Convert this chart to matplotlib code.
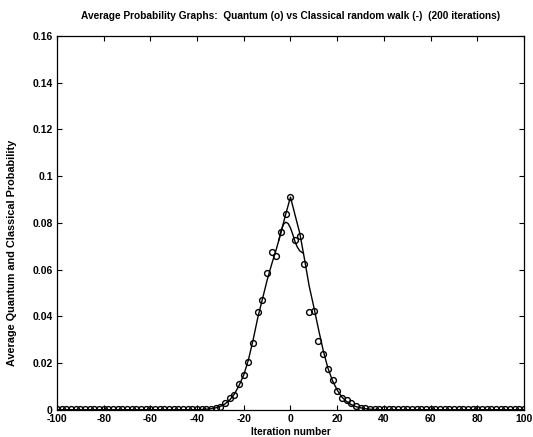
import numpy as np
import matplotlib
matplotlib.use("Agg")
import matplotlib.pyplot as plt

plt.rcParams['font.family'] = ['Liberation Sans', 'DejaVu Sans']
plt.rcParams['axes.unicode_minus'] = False

# positions on the line (every second site)
positions = np.arange(-100, 101, 2)

# averaged quantum walk probabilities (circles)
quantum = [0.0005, 0.0005, 0.0005, 0.0005, 0.0005, 0.0005, 0.0005, 0.0005, 0.0005, 0.0005,
           0.0005, 0.0005, 0.0005, 0.0005, 0.0005, 0.0005, 0.0005, 0.0005, 0.0005, 0.0005,
           0.0005, 0.0005, 0.0005, 0.0005, 0.0005, 0.0005, 0.0005, 0.0005, 0.0005, 0.0005,
           0.0005, 0.0005, 0.0005,
           0.0006, 0.0009, 0.0014, 0.0031, 0.0050, 0.0065, 0.0111, 0.0151, 0.0203, 0.0288,
           0.0417, 0.0470, 0.0584, 0.0677, 0.0659, 0.0761, 0.0839,
           0.0910,
           0.0727, 0.0745, 0.0624, 0.0419, 0.0423, 0.0294, 0.0241, 0.0175, 0.0126, 0.0083,
           0.0050, 0.0043, 0.0031, 0.0017, 0.0010, 0.0007, 0.0005,
           0.0005, 0.0005, 0.0005, 0.0005, 0.0005, 0.0005, 0.0005, 0.0005, 0.0005, 0.0005,
           0.0005, 0.0005, 0.0005, 0.0005, 0.0005, 0.0005, 0.0005, 0.0005, 0.0005, 0.0005,
           0.0005, 0.0005, 0.0005, 0.0005, 0.0005, 0.0005, 0.0005, 0.0005, 0.0005, 0.0005,
           0.0005, 0.0005, 0.0005]

# classical random walk (solid line)
classical = [0.0001, 0.0001, 0.0001, 0.0001, 0.0001, 0.0001, 0.0001, 0.0001, 0.0001, 0.0001,
             0.0001, 0.0001, 0.0001, 0.0001, 0.0001, 0.0001, 0.0001, 0.0001, 0.0001, 0.0001,
             0.0001, 0.0001, 0.0001, 0.0001, 0.0001, 0.0001, 0.0001, 0.0001, 0.0001, 0.0001,
             0.0001, 0.0002, 0.0003,
             0.0005, 0.0009, 0.0015, 0.0026, 0.0043, 0.0068, 0.0105, 0.0150, 0.0215, 0.0300,
             0.0395, 0.0475, 0.0555, 0.0625, 0.0690, 0.0761, 0.0839,
             0.0910,
             0.0832, 0.0755, 0.0645, 0.0530, 0.0440, 0.0345, 0.0255, 0.0180, 0.0125, 0.0085,
             0.0055, 0.0036, 0.0023, 0.0014, 0.0009, 0.0005, 0.0003,
             0.0002, 0.0001, 0.0001, 0.0001, 0.0001, 0.0001, 0.0001, 0.0001, 0.0001, 0.0001,
             0.0001, 0.0001, 0.0001, 0.0001, 0.0001, 0.0001, 0.0001, 0.0001, 0.0001, 0.0001,
             0.0001, 0.0001, 0.0001, 0.0001, 0.0001, 0.0001, 0.0001, 0.0001, 0.0001, 0.0001,
             0.0001, 0.0001, 0.0001]

# second, rounded branch of the classical curve near the centre
hump_x = [-5, -4, -3, -2, -1, 0, 1, 2, 3, 4, 5.5]
hump_y = [0.0726, 0.0768, 0.0794, 0.0803, 0.0797, 0.0778, 0.0750, 0.0718, 0.0695, 0.0680, 0.0670]

xticks = [-100, -80, -60, -40, -20, 0, 20, 40, 60, 80, 100]
yticks = [0, 0.02, 0.04, 0.06, 0.08, 0.1, 0.12, 0.14, 0.16]
ytick_labels = ['0', '0.02', '0.04', '0.06', '0.08', '0.1', '0.12', '0.14', '0.16']

fig = plt.figure(figsize=(5.33, 4.37), dpi=100)
ax = fig.add_axes([0.107, 0.062, 0.876, 0.856])

ax.plot(positions, classical, '-', color='black', linewidth=1.0)
ax.plot(hump_x, hump_y, '-', color='black', linewidth=1.0)
ax.plot(positions, quantum, 'o', markerfacecolor='none', markeredgecolor='black',
        markersize=4.2, markeredgewidth=1.0)

ax.set_xlim(-100, 100)
ax.set_ylim(0, 0.16)
ax.set_xticks(xticks)
ax.set_xticklabels([str(t) for t in xticks])
ax.set_yticks(yticks)
ax.set_yticklabels(ytick_labels)
ax.tick_params(direction='in', top=True, right=True, length=3.5, width=0.8,
               labelsize=7.5, pad=3)
for lab in ax.get_xticklabels() + ax.get_yticklabels():
    lab.set_fontweight('bold')
for s in ax.spines.values():
    s.set_linewidth(0.9)

ax.set_title('Average Probability Graphs:  Quantum (o) vs Classical random walk (-)  (200 iterations)',
             fontsize=7.3, fontweight='bold', pad=12)
ax.set_xlabel('Iteration number', fontsize=7.3, fontweight='bold', labelpad=2)
ax.set_ylabel('Average Quantum and Classical Probability', fontsize=7.8, fontweight='bold')
ax.yaxis.set_label_coords(-0.085, 0.42)

fig.savefig('out.png', dpi=100)
